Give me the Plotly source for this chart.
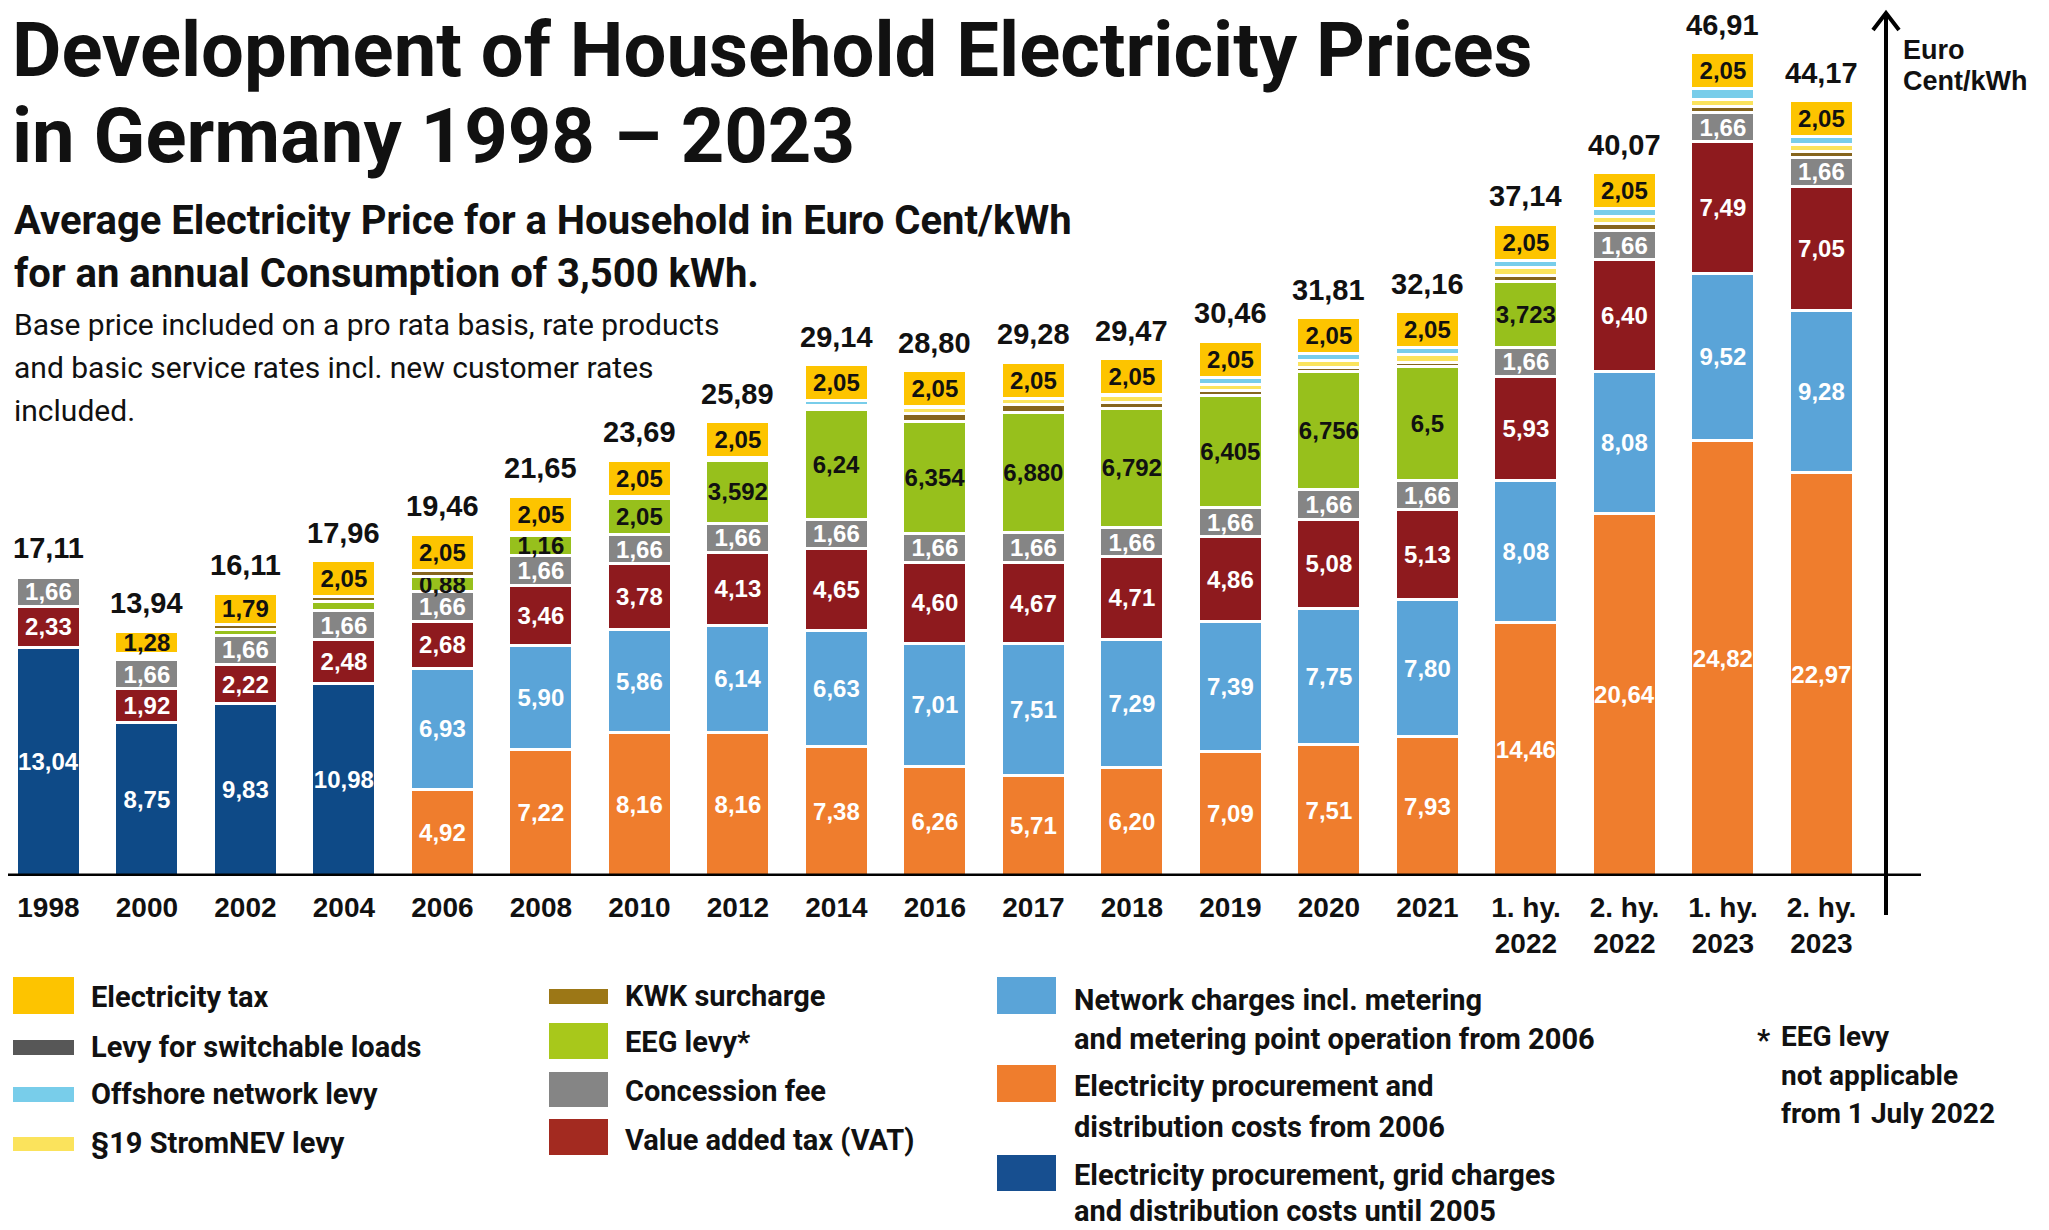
import plotly.graph_objects as go

# ---------------- data ----------------
categories = ["1998", "2000", "2002", "2004", "2006", "2008", "2010", "2012", "2014", "2016",
              "2017", "2018", "2019", "2020", "2021",
              "1. hy.<br>2022", "2. hy.<br>2022", "1. hy.<br>2023", "2. hy.<br>2023"]

totals = [17.11, 13.94, 16.11, 17.96, 19.46, 21.65, 23.69, 25.89, 29.14, 28.80,
          29.28, 29.47, 30.46, 31.81, 32.16, 37.14, 40.07, 46.91, 44.17]

base_until_2005 = [13.04, 8.75, 9.83, 10.98, 0, 0, 0, 0, 0, 0, 0, 0, 0, 0, 0, 0, 0, 0, 0]
procurement_from_2006 = [0, 0, 0, 0, 4.92, 7.22, 8.16, 8.16, 7.38, 6.26, 5.71, 6.20, 7.09, 7.51, 7.93,
                         14.46, 20.64, 24.82, 22.97]
network_charges = [0, 0, 0, 0, 6.93, 5.90, 5.86, 6.14, 6.63, 7.01, 7.51, 7.29, 7.39, 7.75, 7.80,
                   8.08, 8.08, 9.52, 9.28]
vat = [2.33, 1.92, 2.22, 2.48, 2.68, 3.46, 3.78, 4.13, 4.65, 4.60, 4.67, 4.71, 4.86, 5.08, 5.13,
       5.93, 6.40, 7.49, 7.05]
concession_fee = [1.66, 1.66, 1.66, 1.66, 1.66, 1.66, 1.66, 1.66, 1.66, 1.66, 1.66, 1.66, 1.66,
                  1.66, 1.66, 1.66, 1.66, 1.66, 1.66]
eeg_levy = [0, 0, 0.35, 0.51, 0.88, 1.16, 2.05, 3.592, 6.24, 6.354, 6.880, 6.792, 6.405, 6.756, 6.5,
            3.723, 0, 0, 0]
eeg_labels = ["", "", "", "", "0,88", "1,16", "2,05", "3,592", "6,24", "6,354", "6,880", "6,792",
              "6,405", "6,756", "6,5", "3,723", "", "", ""]
not_itemised = [0.08, 0.33, 0, 0, 0, 0.20, 0.13, 0.16, 0, 0, 0, 0, 0, 0, 0, 0, 0, 0, 0]
kwk_surcharge = [0, 0, 0.26, 0.28, 0.34, 0, 0, 0, 0.18, 0.45, 0.44, 0.35, 0.28, 0.23, 0.25,
                 0.38, 0.38, 0.36, 0.33]
stromnev19_levy = [0, 0, 0, 0, 0, 0, 0, 0, 0.09, 0.38, 0.35, 0.37, 0.31, 0.36, 0.43,
                   0.44, 0.44, 0.42, 0.38]
offshore_levy = [0, 0, 0, 0, 0, 0, 0, 0, 0.25, 0.04, 0, 0.04, 0.42, 0.42, 0.40,
                 0.42, 0.42, 0.59, 0.45]
switchable_loads_levy = [0, 0, 0, 0, 0, 0, 0, 0, 0.01, 0, 0.01, 0.01, 0.01, 0.01, 0.01, 0, 0, 0, 0]
electricity_tax = [0, 1.28, 1.79, 2.05, 2.05, 2.05, 2.05, 2.05, 2.05, 2.05, 2.05, 2.05, 2.05, 2.05,
                   2.05, 2.05, 2.05, 2.05, 2.05]

# ---------------- styles ----------------
HEAD = "Roboto, 'Liberation Sans', sans-serif"
SANS = "'Liberation Sans', Arial, sans-serif"

C_TAX = "#fdc400"
C_SWITCH = "#575757"
C_OFFSHORE = "#78cdea"
C_STROMNEV = "#fbe35c"
C_KWK = "#86651d"
C_EEG = "#97c01c"
C_CONC = "#858585"
C_VAT = "#8e1a1e"
C_NET = "#5aa4d8"
C_PROC = "#ef7d2d"
C_BASE = "#0e4a87"

# page has an 8px body margin: figure pixel = page pixel - 8
OFF = 8
PAGE_W, PAGE_H = 2049, 1230
W, H = PAGE_W - OFF, PAGE_H - OFF
# plot area in page pixels
PL, PR, PT, PB = OFF, 1921, OFF, 876
PX_PER_UNIT = 17.55
CENTER0, STEP = 48.4, 98.5


def px(x):
    return (x - PL) / (PR - PL)


def py(y):
    return (PB - y) / (PB - PT)


def fmt(v):
    return f"{v:.2f}".replace(".", ",")


x_idx = list(range(len(categories)))

fig = go.Figure()


def add_stack(values, color, labels=None, textcolor="white", name=""):
    if labels is None:
        labels = [fmt(v) if v > 0 else "" for v in values]
    fig.add_trace(go.Bar(
        x=x_idx, y=values, name=name, width=0.65,
        marker=dict(color=color, line=dict(color="white", width=3)),
        text=labels, textposition="inside", insidetextanchor="middle", textangle=0,
        textfont=dict(family=SANS, size=24, color=textcolor, weight="bold"),
        cliponaxis=False, hoverinfo="skip",
    ))


add_stack(base_until_2005, C_BASE, name="base")
add_stack(procurement_from_2006, C_PROC, name="procurement")
add_stack(network_charges, C_NET, name="network")
add_stack(vat, C_VAT, name="vat")
add_stack(concession_fee, C_CONC, name="concession")
add_stack(eeg_levy, C_EEG, labels=eeg_labels, textcolor="#111111", name="eeg")
add_stack(not_itemised, "white", labels=[""] * len(x_idx), name="other")
add_stack(kwk_surcharge, C_KWK, labels=[""] * len(x_idx), name="kwk")
add_stack(stromnev19_levy, C_STROMNEV, labels=[""] * len(x_idx), name="stromnev")
add_stack(offshore_levy, C_OFFSHORE, labels=[""] * len(x_idx), name="offshore")
add_stack(switchable_loads_levy, C_SWITCH, labels=[""] * len(x_idx), name="switch")
add_stack(electricity_tax, C_TAX, textcolor="#111111", name="tax")

annotations = []
for i, t in enumerate(totals):
    annotations.append(dict(x=i, y=t, xref="x", yref="y", text=fmt(t), showarrow=False,
                            yanchor="bottom", yshift=10,
                            font=dict(family=SANS, size=29, color="#111111", weight="bold")))


def page_text(text, x, y, size, bold=True, family=HEAD, xanchor="left"):
    annotations.append(dict(x=px(x), y=py(y), xref="paper", yref="paper", text=text,
                            showarrow=False, xanchor=xanchor, yanchor="middle", align="left",
                            font=dict(family=family, size=size, color="#111111",
                                      weight="bold" if bold else "normal")))


page_text("Development of Household Electricity Prices", 10, 50, 76)
page_text("in Germany 1998 – 2023", 10, 136, 76)
page_text("Average Electricity Price for a Household in Euro Cent/kWh", 12, 220, 40)
page_text("for an annual Consumption of 3,500 kWh.", 12, 274, 40)
page_text("Base price included on a pro rata basis, rate products", 12, 324, 30, bold=False)
page_text("and basic service rates incl. new customer rates", 12, 367, 30, bold=False)
page_text("included.", 12, 410, 30, bold=False)
page_text("Euro", 1901, 50, 27, family=SANS)
page_text("Cent/kWh", 1901, 81, 27, family=SANS)

shapes = []
shapes.append(dict(type="line", xref="paper", yref="y", x0=0, x1=1, y0=0, y1=0,
                   line=dict(color="black", width=5)))
shapes.append(dict(type="line", xref="paper", yref="paper", x0=px(1886), x1=px(1886),
                   y0=py(915), y1=py(14), line=dict(color="black", width=4)))
shapes.append(dict(type="path", xref="paper", yref="paper",
                   path=f"M {px(1873)} {py(30)} L {px(1886)} {py(13)} L {px(1899)} {py(30)}",
                   line=dict(color="black", width=4)))

LEG = 29
legend_items = [
    (C_TAX, 13, 74, 977, 1014, ["Electricity tax"], 89, [997]),
    (C_SWITCH, 13, 74, 1040, 1055, ["Levy for switchable loads"], 89, [1047]),
    (C_OFFSHORE, 13, 74, 1087, 1102, ["Offshore network levy"], 89, [1094]),
    (C_STROMNEV, 13, 74, 1137, 1151, ["§19 StromNEV levy"], 89, [1143]),
    ("#9c7716", 549, 608, 989, 1004, ["KWK surcharge"], 623, [996]),
    ("#a8c81b", 549, 608, 1023, 1059, ["EEG levy*"], 623, [1042]),
    (C_CONC, 549, 608, 1072, 1107, ["Concession fee"], 623, [1091]),
    ("#a32a20", 549, 608, 1119, 1155, ["Value added tax (VAT)"], 623, [1140]),
    (C_NET, 997, 1056, 977, 1014, ["Network charges incl. metering",
                                   "and metering point operation from 2006"], 1072, [1000, 1039]),
    (C_PROC, 997, 1056, 1065, 1102, ["Electricity procurement and",
                                     "distribution costs from 2006"], 1072, [1086, 1127]),
    ("#174f90", 997, 1056, 1155, 1191, ["Electricity procurement, grid charges",
                                        "and distribution costs until 2005"], 1072, [1175, 1211]),
]
for color, x0, x1, y0, y1, lines, tx, tys in legend_items:
    shapes.append(dict(type="rect", xref="paper", yref="paper", x0=px(x0), x1=px(x1),
                       y0=py(y1), y1=py(y0), fillcolor=color, line=dict(width=0)))
    for line, ty in zip(lines, tys):
        page_text(line, tx, ty, LEG)

page_text("*", 1755, 1040, LEG)
page_text("EEG levy", 1779, 1036, 28)
page_text("not applicable", 1779, 1075, 28)
page_text("from 1 July 2022", 1779, 1113, 28)

x_lo = (PL - CENTER0) / STEP
x_hi = (PR - CENTER0) / STEP

fig.update_layout(
    barmode="stack",
    width=W, height=H,
    margin=dict(l=PL - OFF, r=PAGE_W - PR, t=PT - OFF, b=PAGE_H - PB, autoexpand=False),
    paper_bgcolor="white", plot_bgcolor="white",
    showlegend=False,
    uniformtext=dict(minsize=24, mode="show"),
    xaxis=dict(range=[x_lo, x_hi], tickvals=x_idx, ticktext=categories,
               showgrid=False, zeroline=False, showline=False, automargin=False,
               ticks="outside", ticklen=6, tickcolor="rgba(0,0,0,0)",
               tickfont=dict(family=SANS, size=28, color="#111111", weight="bold")),
    yaxis=dict(range=[0, (PB - PT) / PX_PER_UNIT], visible=False, automargin=False),
    annotations=annotations,
    shapes=shapes,
)

fig.write_html("out.html")
